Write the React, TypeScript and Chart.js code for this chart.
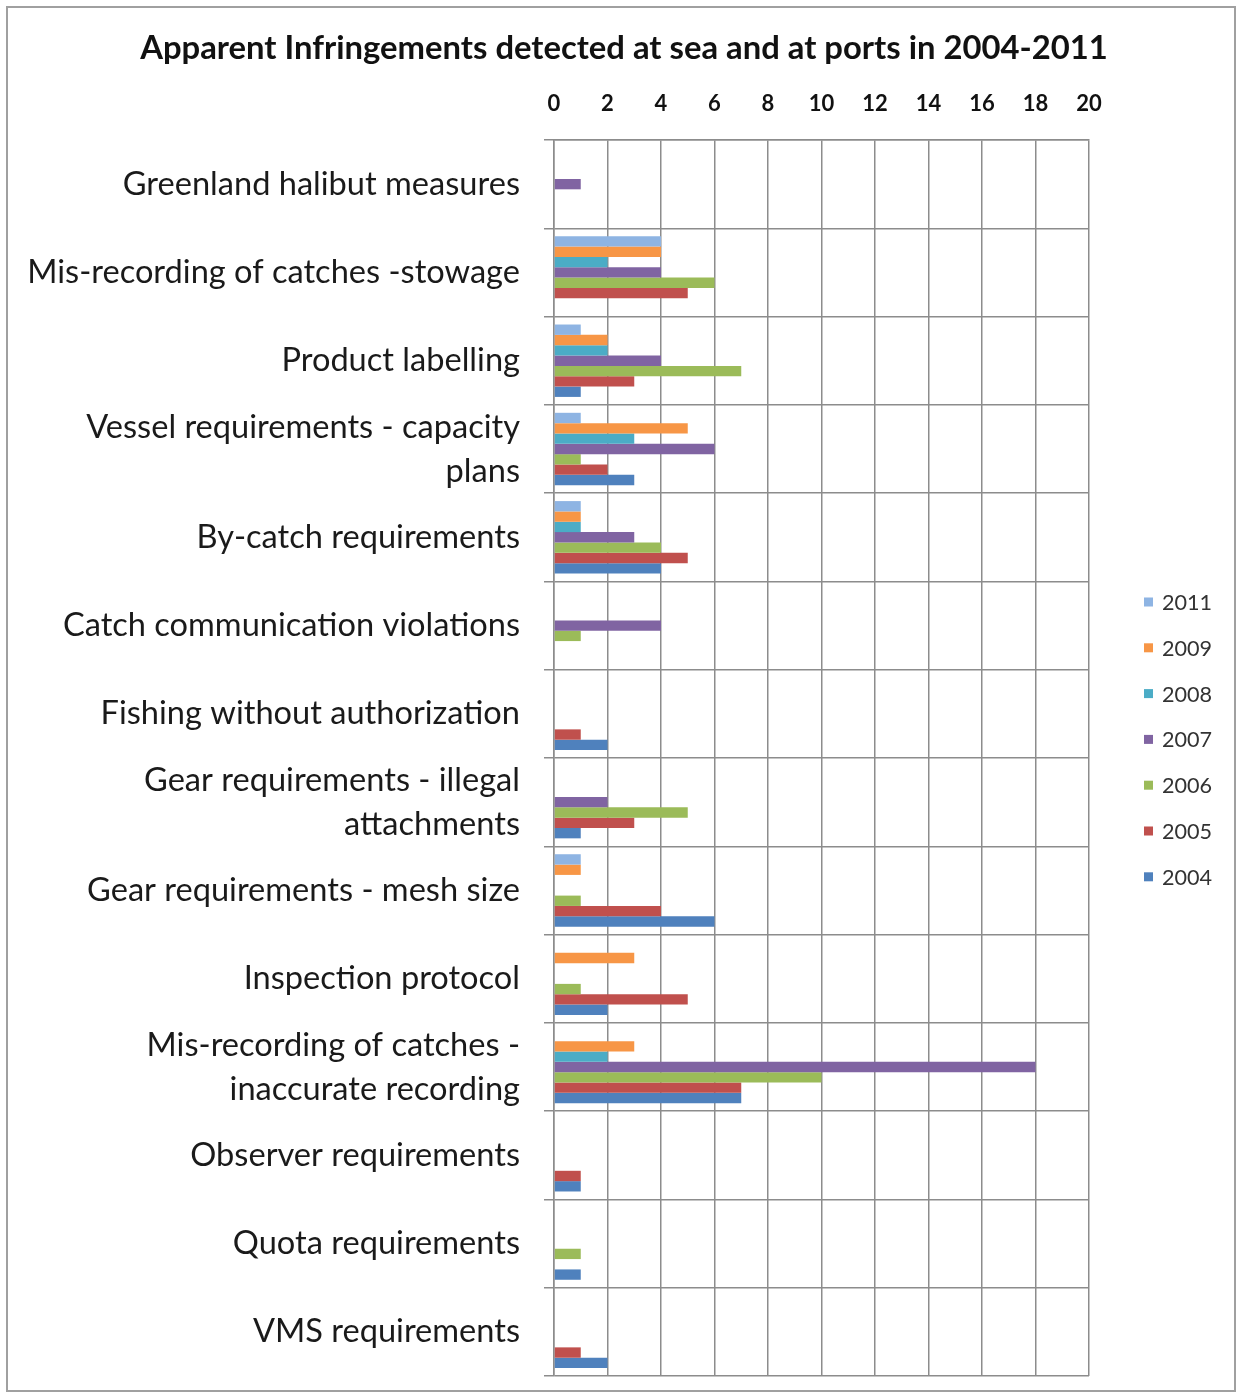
import React, { useEffect, useRef } from "react";
import { Chart, registerables } from "chart.js";

Chart.register(...registerables);

const chartTitle = "Apparent Infringements detected at sea and at ports in 2004-2011";

const categories: (string | string[])[] = [
  "Greenland halibut measures",
  "Mis-recording of catches -stowage",
  "Product labelling",
  ["Vessel requirements - capacity", "plans"],
  "By-catch requirements",
  "Catch communication violations",
  "Fishing without authorization",
  ["Gear requirements - illegal", "attachments"],
  "Gear requirements - mesh size",
  "Inspection protocol",
  ["Mis-recording of catches -", "inaccurate recording"],
  "Observer requirements",
  "Quota requirements",
  "VMS requirements",
];

const seriesLabels = ["2011", "2009", "2008", "2007", "2006", "2005", "2004"];

const v2011 = [0, 4, 1, 1, 1, 0, 0, 0, 1, 0, 0, 0, 0, 0];
const v2009 = [0, 4, 2, 5, 1, 0, 0, 0, 1, 3, 3, 0, 0, 0];
const v2008 = [0, 2, 2, 3, 1, 0, 0, 0, 0, 0, 2, 0, 0, 0];
const v2007 = [1, 4, 4, 6, 3, 4, 0, 2, 0, 0, 18, 0, 0, 0];
const v2006 = [0, 6, 7, 1, 4, 1, 0, 5, 1, 1, 10, 0, 1, 0];
const v2005 = [0, 5, 3, 2, 5, 0, 1, 3, 4, 5, 7, 1, 0, 1];
const v2004 = [0, 0, 1, 3, 4, 0, 2, 1, 6, 2, 7, 1, 1, 2];

const seriesValues = [v2011, v2009, v2008, v2007, v2006, v2005, v2004];
const seriesColors = ["#8EB4E3", "#F79646", "#4BACC6", "#8064A2", "#9BBB59", "#C0504D", "#4F81BD"];

const xMin = 0;
const xMax = 20;
const xStep = 2;

const FONT = "Lato, 'Open Sans', sans-serif";

function fitSize(text: string, weight: string, target: number, base: number): number {
  const c = document.createElement("canvas").getContext("2d");
  if (!c) return base;
  c.font = `${weight} ${base}px ${FONT}`;
  const w = c.measureText(text).width;
  if (!w) return base;
  return Math.round((base * target) / w * 10) / 10;
}

export default function App() {
  const ref = useRef<HTMLCanvasElement | null>(null);

  useEffect(() => {
    if (!ref.current) return;
    const titleSize = fitSize(chartTitle, "bold", 968, 28);
    const labelSize = fitSize("Mis-recording of catches -stowage", "normal", 493, 28);
    const legendSize = fitSize("2011", "normal", 50, 21);

    const overlay = {
      id: "overlay",
      afterDraw(chart: any) {
        const ctx = chart.ctx as CanvasRenderingContext2D;
        ctx.save();
        ctx.fillStyle = "#111";
        ctx.font = `bold ${titleSize}px ${FONT}`;
        ctx.textAlign = "center";
        ctx.textBaseline = "middle";
        ctx.fillText(chartTitle, 624, 48);
        ctx.font = `${legendSize}px ${FONT}`;
        ctx.textAlign = "left";
        chart.data.datasets.forEach((ds: any, i: number) => {
          const y = 602 + i * 45.8;
          ctx.fillStyle = ds.backgroundColor;
          ctx.fillRect(1144, y - 4.5, 9, 9);
          ctx.fillStyle = "#333";
          ctx.fillText(ds.label, 1162, y + 1);
        });
        ctx.restore();
      },
    };

    const chart = new Chart(ref.current, {
      type: "bar",
      data: {
        labels: categories,
        datasets: seriesLabels.map((lab, i) => ({
          label: lab,
          data: seriesValues[i],
          backgroundColor: seriesColors[i],
          borderWidth: 0,
          categoryPercentage: 0.82,
          barPercentage: 1,
        })),
      },
      options: {
        indexAxis: "y",
        responsive: false,
        animation: false,
        layout: { padding: { left: 0, right: 149, top: 0, bottom: 23 } },
        plugins: {
          legend: { display: false },
          title: { display: false },
          tooltip: { enabled: false },
        },
        scales: {
          x: {
            position: "top",
            min: xMin,
            max: xMax,
            ticks: {
              stepSize: xStep,
              color: "#111",
              padding: 23,
              font: { family: FONT, size: 22, weight: "bold", lineHeight: 1.2 },
            },
            grid: { color: "#8c8c8c", lineWidth: 1.5, drawTicks: false },
            border: { color: "#8c8c8c", width: 1.5 },
            afterFit(scale: any) {
              scale.height = 140;
              scale.paddingLeft = 0;
              scale.paddingRight = 0;
            },
          },
          y: {
            position: "left",
            ticks: {
              color: "#1a1a1a",
              padding: 24,
              autoSkip: false,
              font: { family: FONT, size: labelSize, lineHeight: "44px" },
            },
            grid: { color: "#8c8c8c", lineWidth: 1.5, tickLength: 10, offset: true },
            border: { color: "#8c8c8c", width: 1.5 },
            afterFit(scale: any) {
              scale.width = 554;
              scale.paddingTop = 0;
              scale.paddingBottom = 0;
            },
          },
        },
      },
      plugins: [overlay],
    } as any);

    return () => chart.destroy();
  }, []);

  return (
    <div style={{ position: "fixed", left: 0, top: 0, width: 1238, height: 1399, background: "#fff" }}>
      <canvas ref={ref} width={1238} height={1399} style={{ position: "absolute", left: 0, top: 0 }} />
      <div
        style={{
          position: "absolute",
          left: 6,
          top: 6,
          width: 1230,
          height: 1386,
          border: "2px solid #a0a0a0",
          boxSizing: "border-box",
          pointerEvents: "none",
        }}
      />
    </div>
  );
}
